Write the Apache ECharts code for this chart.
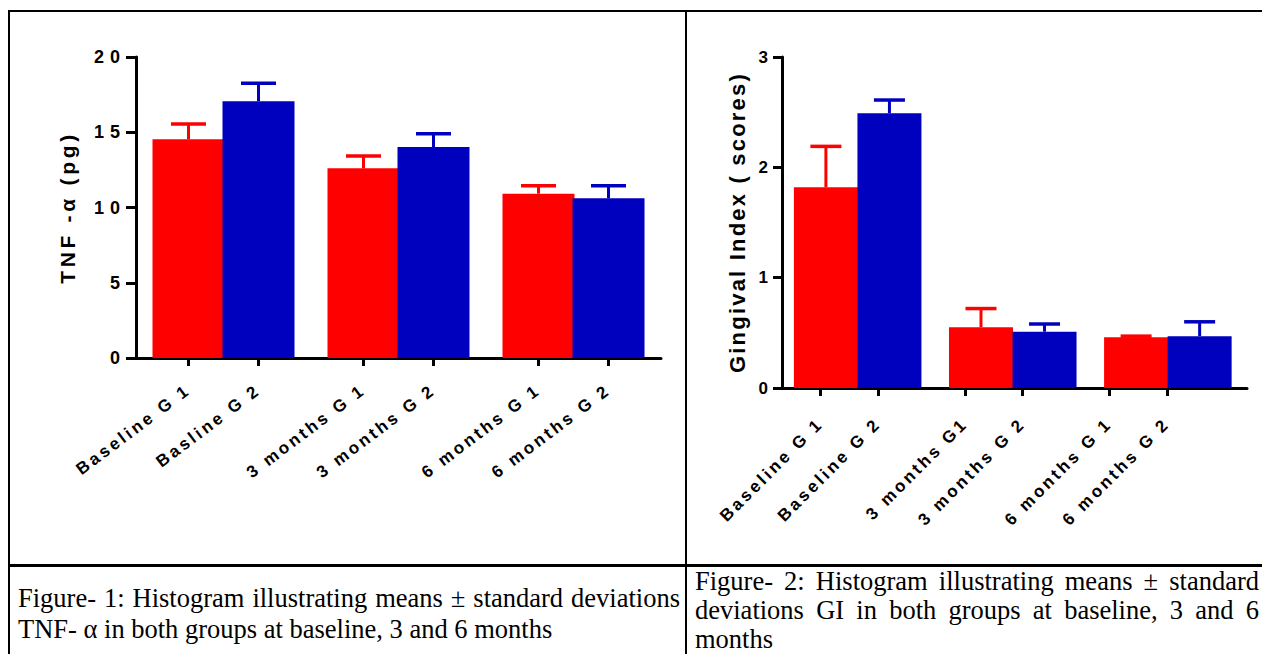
<!DOCTYPE html>
<html>
<head>
<meta charset="utf-8">
<script src="https://cdn.jsdelivr.net/npm/echarts@6/dist/echarts.min.js"></script>
<style>
html, body { margin: 0; padding: 0; background: #fff; }
#page { position: relative; width: 1262px; height: 654px; overflow: hidden; background: #fff; }
#chart { position: absolute; left: 0; top: 0; width: 1262px; height: 654px; }
.rule { position: absolute; background: #000; }
.cap { position: absolute; font-family: 'Liberation Serif', 'Times New Roman', serif; font-size: 26.5px;
       line-height: 31px; text-align: justify; color: #000; }
#chart svg text[style*="18px"] { letter-spacing: 6px; }
#chart svg text[style*="17px"] { letter-spacing: 3px; }
#chart svg text[style*="21px"] { letter-spacing: 3.7px; }
#chart svg text[style*="22px"] { letter-spacing: 2.2px; }
</style>
</head>
<body>
<div id="page">
  <div class="rule" style="left:8px;top:10px;width:1260px;height:2px;"></div>
  <div class="rule" style="left:8px;top:10px;width:2px;height:650px;"></div>
  <div class="rule" style="left:685px;top:10px;width:2px;height:650px;"></div>
  <div class="rule" style="left:8px;top:564px;width:1260px;height:3px;"></div>
  <div class="cap" style="left:18px;top:583px;width:662px;">Figure- 1: Histogram illustrating means ± standard deviations TNF- α in both groups at baseline, 3 and 6 months</div>
  <div class="cap" style="left:695px;top:567px;width:564px;line-height:29px;">Figure- 2: Histogram illustrating means ± standard deviations GI in both groups at baseline, 3 and 6 months</div>
  <div id="chart"></div>
</div>
<script>
// ---- data ----
const tnfLabels = ['Baseline G 1', 'Basline G 2', '3 months G 1', '3 months G 2', '6 months G 1', '6 months G 2'];
const tnfG1 = [14.53, 12.60, 10.92];
const tnfG1Sd = [1.02, 0.82, 0.53];
const tnfG2 = [17.06, 14.02, 10.61];
const tnfG2Sd = [1.19, 0.88, 0.84];
const tnfAxisName = 'TNF -α (pg)';

const giLabels = ['Baseline G 1', 'Baseline G 2', '3 months G1', '3 months G 2', '6 months G 1', '6 months G 2'];
const giG1 = [1.82, 0.55, 0.46];
const giG1Sd = [0.37, 0.17, 0.01];
const giG2 = [2.49, 0.51, 0.47];
const giG2Sd = [0.12, 0.07, 0.13];
const giAxisName = 'Gingival Index ( scores)';

// ---- layout / style ----
const RED = '#FF0000';
const BLUE = '#0000BF';
const FONT = 'Liberation Sans';

const layout1 = { tick0: 1.5, tickGroup: 5, tickPair: 2, bar0: 1.5, barGroup: 5, barPair: 2, max: 15,
  barWidth: 72, cap: 35, yMax: 20, yInt: 5, yFont: 18, yMargin: 10, yTick: 10, xFont: 17, xRotate: 37, xMargin: 30,
  nameFont: 21, nameGap: 58 };
const layout2 = { tick0: 1.33, tickGroup: 5, tickPair: 2, bar0: 1.52, barGroup: 5.37, barPair: 2.2, max: 16.1,
  barWidth: 64, cap: 31, yMax: 3, yInt: 1, yFont: 17, yMargin: 11, yTick: 9, xFont: 17, xRotate: 45, xMargin: 33,
  nameFont: 22, nameGap: 34 };

function errRender(color, cap) {
  return function (params, api) {
    const x = api.value(0), m = api.value(1), s = api.value(2);
    const b = api.coord([x, m]);
    const t = api.coord([x, m + s]);
    return {
      type: 'group',
      children: [
        { type: 'line', shape: { x1: b[0], y1: b[1], x2: t[0], y2: t[1] }, style: { stroke: color, lineWidth: 3 } },
        { type: 'line', shape: { x1: t[0] - cap / 2, y1: t[1], x2: t[0] + cap / 2, y2: t[1] }, style: { stroke: color, lineWidth: 3.5 } }
      ]
    };
  };
}

function build(idx, labels, g1, g1sd, g2, g2sd, L, name) {
  const ticks = labels.map((_, i) => L.tick0 + Math.floor(i / 2) * L.tickGroup + (i % 2) * L.tickPair);
  const barPos = (g, m) => L.bar0 + g * L.barGroup + m * L.barPair;
  const axisLine = { show: true, onZero: false, lineStyle: { color: '#000', width: 3 } };
  const xAxis = {
    type: 'value', gridIndex: idx, min: 0, max: L.max,
    axisLine: axisLine,
    splitLine: { show: false },
    axisTick: { show: true, customValues: ticks, length: 8, lineStyle: { color: '#000', width: 3 } },
    axisLabel: {
      show: true, customValues: ticks, rotate: L.xRotate, margin: L.xMargin,
      color: '#000', fontFamily: FONT, fontWeight: 'bold', fontSize: L.xFont,
      formatter: function (v) {
        const i = ticks.findIndex(p => Math.abs(p - v) < 1e-6);
        return i >= 0 ? labels[i] : '';
      }
    }
  };
  const yAxis = {
    type: 'value', gridIndex: idx, min: 0, max: L.yMax, interval: L.yInt,
    axisLine: axisLine,
    splitLine: { show: false },
    axisTick: { show: true, length: L.yTick, lineStyle: { color: '#000', width: 3 } },
    axisLabel: { color: '#000', fontFamily: FONT, fontWeight: 'bold', fontSize: L.yFont, margin: L.yMargin },
    name: name, nameLocation: 'middle', nameRotate: 90, nameGap: L.nameGap,
    nameTextStyle: { color: '#000', fontFamily: FONT, fontWeight: 'bold', fontSize: L.nameFont }
  };
  const series = [
    { type: 'bar', xAxisIndex: idx, yAxisIndex: idx, barWidth: L.barWidth, barGap: '-100%',
      itemStyle: { color: RED }, data: g1.map((v, g) => [barPos(g, 0), v]) },
    { type: 'bar', xAxisIndex: idx, yAxisIndex: idx, barWidth: L.barWidth, barGap: '-100%',
      itemStyle: { color: BLUE }, data: g2.map((v, g) => [barPos(g, 1), v]) },
    { type: 'custom', xAxisIndex: idx, yAxisIndex: idx, z: 5, renderItem: errRender(RED, L.cap),
      encode: { x: 0, y: 1 }, data: g1.map((v, g) => [barPos(g, 0), v, g1sd[g]]) },
    { type: 'custom', xAxisIndex: idx, yAxisIndex: idx, z: 5, renderItem: errRender(BLUE, L.cap),
      encode: { x: 0, y: 1 }, data: g2.map((v, g) => [barPos(g, 1), v, g2sd[g]]) }
  ];
  return { xAxis, yAxis, series };
}

const c1 = build(0, tnfLabels, tnfG1, tnfG1Sd, tnfG2, tnfG2Sd, layout1, tnfAxisName);
const c2 = build(1, giLabels, giG1, giG1Sd, giG2, giG2Sd, layout2, giAxisName);

const chart = echarts.init(document.getElementById('chart'), null, { renderer: 'svg' });
chart.setOption({
  animation: false,
  backgroundColor: 'transparent',
  grid: [
    { left: 136, top: 57, width: 525, height: 301, containLabel: false, outerBoundsMode: 'none' },
    { left: 782, top: 57, width: 465, height: 331, containLabel: false, outerBoundsMode: 'none' }
  ],
  xAxis: [c1.xAxis, c2.xAxis],
  yAxis: [c1.yAxis, c2.yAxis],
  series: c1.series.concat(c2.series)
});
</script>
</body>
</html>
